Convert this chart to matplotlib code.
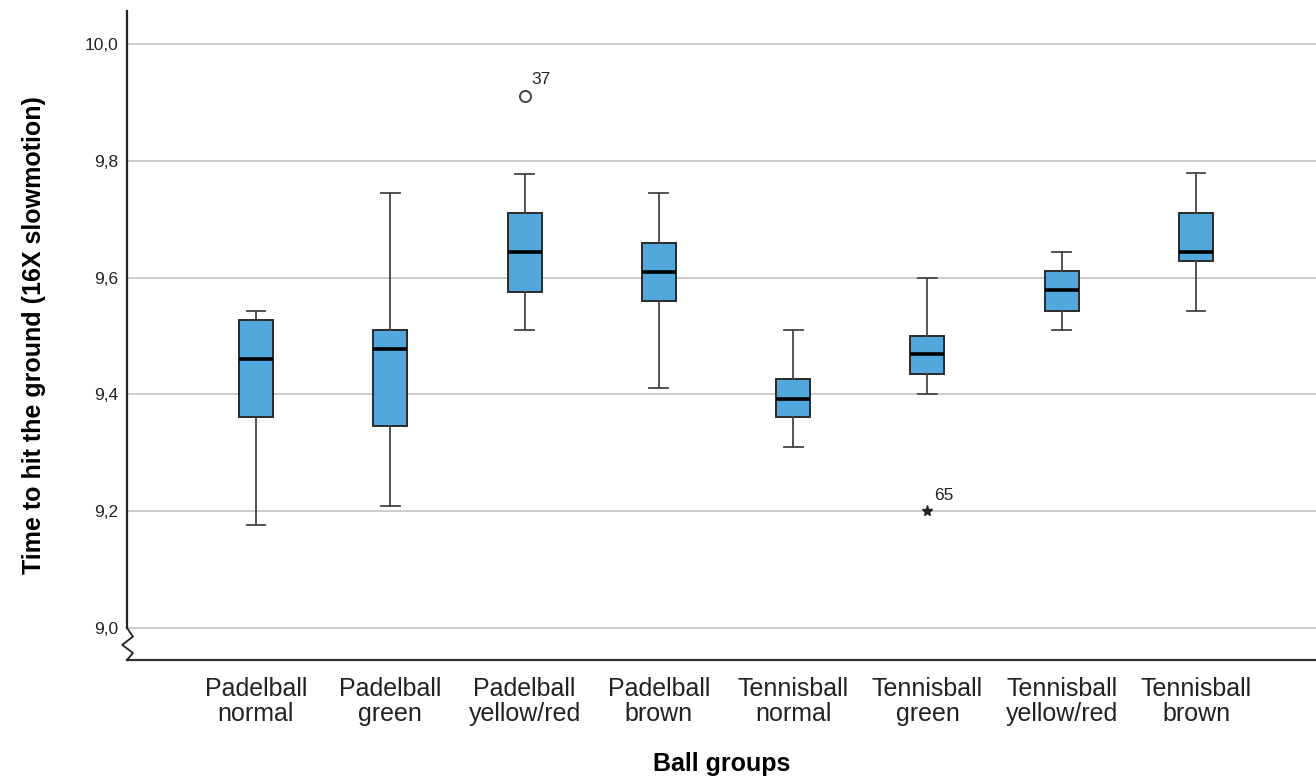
import numpy as np
import matplotlib.pyplot as plt

plt.rcParams['font.family'] = ['Liberation Sans', 'DejaVu Sans']

groups = ["Padelball\nnormal", "Padelball\ngreen", "Padelball\nyellow/red", "Padelball\nbrown",
          "Tennisball\nnormal", "Tennisball\ngreen", "Tennisball\nyellow/red", "Tennisball\nbrown"]
whislo = [9.176, 9.209, 9.510, 9.410, 9.309, 9.400, 9.511, 9.543]
q1 = [9.361, 9.346, 9.576, 9.560, 9.361, 9.434, 9.543, 9.628]
med = [9.461, 9.477, 9.643, 9.610, 9.392, 9.469, 9.578, 9.643]
q3 = [9.527, 9.510, 9.710, 9.660, 9.426, 9.500, 9.611, 9.711]
whishi = [9.543, 9.745, 9.778, 9.745, 9.511, 9.600, 9.644, 9.779]

# outliers: group index (1-based), value, case label, marker
out_group = [3, 6]
out_value = [9.911, 9.200]
out_label = ["37", "65"]
out_marker = ["o", "*"]

yticks = [9.0, 9.2, 9.4, 9.6, 9.8, 10.0]

fig = plt.figure(figsize=(13.16, 7.78), dpi=100)
ax = fig.add_axes([127 / 1316, 1 - 660 / 778, 1 - 127 / 1316, (660 - 11) / 778])

pos = np.arange(1, len(groups) + 1)
stats = []
for i in range(len(groups)):
    stats.append(dict(whislo=whislo[i], q1=q1[i], med=med[i], q3=q3[i], whishi=whishi[i], fliers=[]))

ax.bxp(stats, positions=pos, widths=0.253, capwidths=0.14, patch_artist=True, showfliers=False,
       boxprops=dict(facecolor="#52A7DD", edgecolor="#2a2a2a", linewidth=1.4),
       medianprops=dict(color="black", linewidth=2.6),
       whiskerprops=dict(color="#444444", linewidth=1.3),
       capprops=dict(color="#444444", linewidth=1.3), zorder=3)

for g, v, lab, m in zip(out_group, out_value, out_label, out_marker):
    if m == "o":
        ax.plot(g, v, marker="o", ms=8, mfc="white", mec="#444444", mew=1.4, ls="none", zorder=4)
    else:
        ax.plot(g, v, marker="*", ms=8, color="#222222", ls="none", zorder=4)
    ax.annotate(lab, (g, v), xytext=(5, 11.5), textcoords="offset points",
                ha="left", va="center", fontsize=12.5, color="#222222")

ax.set_xlim(0.04, 8.893)
ax.set_ylim(8.945, 10.0565)
ax.set_yticks(yticks)
ax.set_yticklabels([f"{t:.1f}".replace(".", ",") for t in yticks])
ax.set_xticks(pos)
ax.set_xticklabels(groups, fontsize=18, linespacing=1.05, color="#222222")
ax.tick_params(axis="y", length=0, pad=6, labelsize=12.5, labelcolor="#222222")
ax.tick_params(axis="x", length=0, pad=12)
ax.grid(axis="y", color="#c8c8c8", linewidth=1.3, zorder=0)
ax.set_axisbelow(True)

for s in ["top", "right", "left"]:
    ax.spines[s].set_visible(False)
ax.spines["bottom"].set_color("#333333")
ax.spines["bottom"].set_linewidth(1.6)

# y axis with break symbol below 9,0
tr = ax.get_yaxis_transform()
ax.plot([0, 0], [9.0, 10.0565], transform=tr, color="#222222", lw=1.6, clip_on=False, zorder=5)
ax.plot([0, 0.005, -0.004, 0.005, 0], [9.0, 8.985, 8.971, 8.957, 8.945],
        transform=tr, color="#222222", lw=1.3, clip_on=False, zorder=5)

ax.set_xlabel("Ball groups", fontsize=18, fontweight="bold", labelpad=19)
ax.set_ylabel("Time to hit the ground (16X slowmotion)", fontsize=18, fontweight="bold", labelpad=28)

fig.savefig("out.png", dpi=100)
